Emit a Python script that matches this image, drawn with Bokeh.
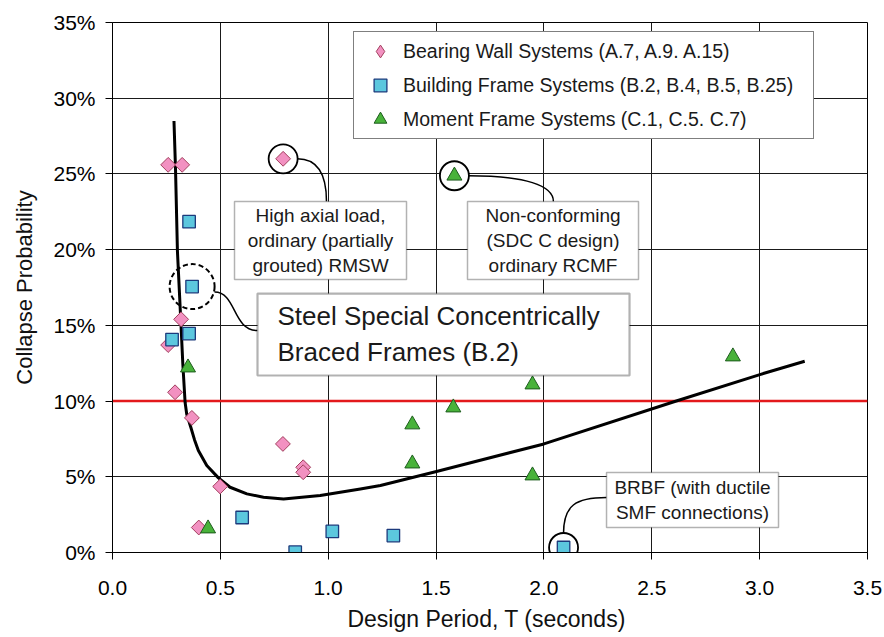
import numpy as np
from bokeh.plotting import figure
from bokeh.models import (Legend, LegendItem, Span, BoxAnnotation, Label,
                          FixedTicker, PrintfTickFormatter)
from bokeh.embed import file_html
from bokeh.resources import INLINE

# ---------------- data ----------------
bearing_T = [0.258, 0.323, 0.791, 0.318, 0.258, 0.290, 0.368, 0.790, 0.884, 0.884, 0.499, 0.400]
bearing_P = [25.6, 25.6, 26.0, 15.4, 13.7, 10.58, 8.89, 7.17, 5.63, 5.30, 4.36, 1.65]

building_T = [0.355, 0.369, 0.355, 0.276, 0.601, 1.019, 0.847, 1.302, 2.091]
building_P = [21.85, 17.56, 14.46, 14.06, 2.31, 1.39, 0.02, 1.12, 0.33]

moment_T = [1.585, 0.350, 0.443, 1.947, 1.580, 1.390, 1.390, 1.947, 2.876]
moment_P = [24.88, 12.21, 1.58, 11.09, 9.57, 8.45, 5.87, 5.08, 12.94]

fit_T = [0.285, 0.292, 0.301, 0.318, 0.326, 0.3365, 0.344, 0.363, 0.380, 0.398, 0.437, 0.491,
         0.545, 0.623, 0.70, 0.793, 0.963, 1.149, 1.242, 1.502, 2.0, 2.61, 3.001, 3.209]
fit_P = [28.5, 25.4, 19.9, 14.9, 12.45, 9.92, 9.15, 8.27, 7.45, 6.73, 5.74, 4.93,
         4.31, 3.87, 3.65, 3.54, 3.76, 4.20, 4.42, 5.35, 7.17, 9.99, 11.75, 12.63]

threshold = 10.0

x_ticks = [0.0, 0.5, 1.0, 1.5, 2.0, 2.5, 3.0, 3.5]
y_ticks = [0, 5, 10, 15, 20, 25, 30, 35]

legend_labels = ["Bearing Wall Systems (A.7, A.9. A.15)",
                 "Building Frame Systems (B.2, B.4, B.5, B.25)",
                 "Moment Frame Systems (C.1, C.5. C.7)"]

# highlighted points (indices into the series above)
hl_rmsw = 2      # bearing wall
hl_rcmf = 0      # moment frame
hl_scbf = 1      # building frame (dashed)
hl_brbf = 8      # building frame

FONT = "Liberation Sans"

p = figure(width=884, height=637, x_range=(0, 3.5), y_range=(0, 35),
           output_backend="svg", toolbar_location=None,
           min_border_left=112, min_border_right=17, min_border_top=22,
           min_border_bottom=85)
p.background_fill_color = "white"
p.border_fill_color = "white"
p.outline_line_color = "black"
p.outline_line_width = 1

# axes
p.xaxis.ticker = FixedTicker(ticks=x_ticks)
p.yaxis.ticker = FixedTicker(ticks=y_ticks)
p.xaxis.formatter = PrintfTickFormatter(format="%.1f")
p.yaxis.formatter = PrintfTickFormatter(format="%d%%")
for ax in (p.xaxis[0], p.yaxis[0]):
    ax.major_label_text_font = FONT
    ax.major_label_text_font_size = "21px"
    ax.major_label_text_color = "black"
    ax.axis_line_color = "black"
    ax.axis_line_width = 1
    ax.major_tick_line_color = "black"
    ax.major_tick_out = 7
    ax.major_tick_in = 0
    ax.minor_tick_line_color = None
    ax.axis_label_text_font = FONT
    ax.axis_label_text_font_style = "normal"
    ax.axis_label_text_color = "#111111"
p.xaxis.major_label_standoff = 21
p.yaxis.major_label_standoff = 10
p.yaxis.axis_label = "Collapse Probability"
p.yaxis.axis_label_text_font_size = "22px"
p.yaxis.axis_label_standoff = 13
p.xaxis.axis_label = "Design Period, T  (seconds)"
p.xaxis.axis_label_text_font_size = "23px"
p.xaxis.axis_label_standoff = 8

p.xgrid.ticker = FixedTicker(ticks=x_ticks)
p.ygrid.ticker = FixedTicker(ticks=y_ticks)
p.grid.grid_line_color = "#1a1a1a"
p.grid.grid_line_width = 1
p.grid.grid_line_alpha = 1

# threshold line
p.add_layout(Span(location=threshold, dimension="width", line_color="#e3191c",
                  line_width=2.5, level="underlay"))

# fitted curve
p.line(fit_T, fit_P, line_color="black", line_width=3, line_join="round")

# white-filled highlight circles (behind the points)
circ_x = [bearing_T[hl_rmsw], moment_T[hl_rcmf], building_T[hl_brbf]]
circ_y = [bearing_P[hl_rmsw], moment_P[hl_rcmf], building_P[hl_brbf]]
p.scatter(circ_x, circ_y, marker="circle", size=29, fill_color="white",
          line_color="black", line_width=1.8)

# data points
pink = dict(fill_color="#f291c1", line_color="#a3415f", line_width=1)
r_bw_leg = p.scatter(bearing_T, bearing_P, marker="diamond", size=13, **pink)
r_bw = p.scatter(bearing_T, bearing_P, marker="square", angle=np.pi / 4, size=10.5, **pink)
r_bf = p.scatter(building_T, building_P, marker="square", size=12.5,
                 fill_color="#5cc7de", line_color="#1c3a7c", line_width=1.3)
r_mf = p.scatter(moment_T, moment_P, marker="triangle", size=15,
                 fill_color="#48b23a", line_color="#1d5c1d", line_width=1)

# dashed highlight circle
p.scatter([building_T[hl_scbf]], [building_P[hl_scbf]], marker="circle", size=45,
          fill_alpha=0, line_color="black", line_width=2, line_dash="5 3")

# connectors
p.bezier(x0=[0.857, 1.650, 0.4729, 2.0908], y0=[26.0, 24.88, 17.20, 1.255],
         x1=[0.992, 2.044, 0.6722, 2.2902], y1=[23.18, 23.18, 14.66, 3.63],
         cx0=[0.955, 1.915, 0.5749, 2.0908], cy0=[26.0, 24.88, 17.20, 3.10],
         cx1=[0.992, 2.044, 0.5563, 2.1464], cy1=[24.9, 24.24, 14.66, 3.63],
         line_color="black", line_width=1.5)

# callout boxes
boxes = [(0.5656, 1.3630, 23.18, 18.03, 1.5),
         (1.6457, 2.4385, 23.18, 18.03, 1.5),
         (0.6722, 2.3968, 17.10, 11.69, 2.2),
         (2.2902, 3.0875, 5.283, 1.651, 1.5)]
for l, r, t, b, w in boxes:
    p.add_layout(BoxAnnotation(left=l, right=r, top=t, bottom=b, fill_color="white",
                               fill_alpha=1, line_color="black", line_width=w,
                               level="annotation"))

def txt(x, y, s, size, align="center"):
    p.add_layout(Label(x=x, y=y, text=s, text_font=FONT, text_font_size=size,
                       text_align=align, text_baseline="middle", text_color="#1a1a1a",
                       text_line_height=1.2))

txt(0.9643, 20.60, "High axial load,\nordinary (partially\ngrouted) RMSW", "19px")
txt(2.0421, 20.60, "Non-conforming\n(SDC C design)\nordinary RCMF", "19px")
txt(0.7649, 14.40, "Steel Special Concentrically\nBraced Frames (B.2)", "26px", "left")
txt(2.6888, 3.467, "BRBF (with ductile\nSMF connections)", "19px")

# legend
legend = Legend(items=[LegendItem(label=legend_labels[0], renderers=[r_bw_leg]),
                       LegendItem(label=legend_labels[1], renderers=[r_bf]),
                       LegendItem(label=legend_labels[2], renderers=[r_mf])],
                location=(241, 413))
legend.padding = 3
legend.spacing = 2
legend.margin = 0
legend.glyph_width = 46
legend.glyph_height = 32
legend.label_height = 32
legend.label_width = 407
legend.label_standoff = 0
legend.label_text_font = FONT
legend.label_text_font_size = "19.5px"
legend.label_text_color = "#1a1a1a"
legend.border_line_color = "black"
legend.border_line_width = 1.2
legend.background_fill_color = "white"
legend.background_fill_alpha = 1
p.add_layout(legend)

open("out.html", "w").write(file_html(p, INLINE))
